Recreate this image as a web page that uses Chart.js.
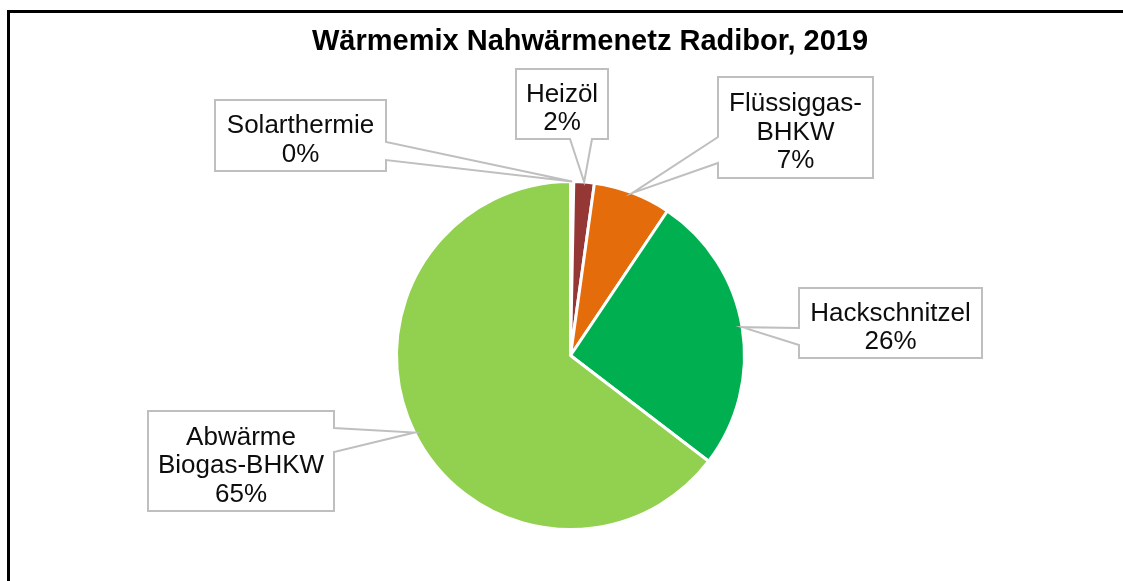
<!DOCTYPE html>
<html>
<head>
<meta charset="utf-8">
<script src="https://cdn.jsdelivr.net/npm/chart.js@4"></script>
<style>
  html, body { margin: 0; padding: 0; background: #fff; }
  #wrap { position: relative; width: 1123px; height: 581px; overflow: hidden; }
  #frame { position: absolute; left: 7px; top: 10px; width: 1300px; height: 800px;
           border-top: 3px solid #000; border-left: 3px solid #000; }
  canvas { position: absolute; left: 0; top: 0; }
</style>
</head>
<body>
<div id="wrap">
  <div id="frame"></div>
  <canvas id="pie" width="1123" height="581"></canvas>
</div>
<script>
// Wärmemix 2019, shares in percent
const categories = [
  ['Solarthermie'],
  ['Heizöl'],
  ['Flüssiggas-', 'BHKW'],
  ['Hackschnitzel'],
  ['Abwärme', 'Biogas-BHKW']
];
const shares = [0.3, 1.9, 7.2, 26.0, 64.6];
const colors = ['#FFC000', '#953735', '#E46C0A', '#00B050', '#92D050'];

// callout boxes (label placement)
const boxes = [
  { x: 215, y: 100, w: 171, h: 71,  side: 'right',  a: 142, b: 160 },
  { x: 516, y: 69,  w: 92,  h: 70,  side: 'bottom', a: 570, b: 592 },
  { x: 718, y: 77,  w: 155, h: 101, side: 'left',   a: 137, b: 163 },
  { x: 799, y: 288, w: 183, h: 70,  side: 'left',   a: 328, b: 345 },
  { x: 148, y: 411, w: 186, h: 100, side: 'right',  a: 428, b: 452 }
];

const FONT = '"Liberation Sans", Arial, sans-serif';

const callouts = {
  id: 'callouts',
  afterDatasetsDraw(chart) {
    const ctx = chart.ctx;
    const arcs = chart.getDatasetMeta(0).data;
    const total = shares.reduce((s, v) => s + v, 0);
    ctx.save();
    arcs.forEach((arc, i) => {
      const b = boxes[i];
      const mid = (arc.startAngle + arc.endAngle) / 2;
      const tx = arc.x + Math.cos(mid) * arc.outerRadius;
      const ty = arc.y + Math.sin(mid) * arc.outerRadius;
      const x0 = b.x, y0 = b.y, x1 = b.x + b.w, y1 = b.y + b.h;
      ctx.beginPath();
      ctx.moveTo(x0, y0);
      ctx.lineTo(x1, y0);
      if (b.side === 'right') { ctx.lineTo(x1, b.a); ctx.lineTo(tx, ty); ctx.lineTo(x1, b.b); }
      ctx.lineTo(x1, y1);
      if (b.side === 'bottom') { ctx.lineTo(b.b, y1); ctx.lineTo(tx, ty); ctx.lineTo(b.a, y1); }
      ctx.lineTo(x0, y1);
      if (b.side === 'left') { ctx.lineTo(x0, b.b); ctx.lineTo(tx, ty); ctx.lineTo(x0, b.a); }
      ctx.closePath();
      ctx.fillStyle = '#fff';
      ctx.fill();
      ctx.lineWidth = 2;
      ctx.strokeStyle = '#bfbfbf';
      ctx.stroke();

      const lines = categories[i].concat([Math.round(shares[i] / total * 100) + '%']);
      const lh = 28.5;
      ctx.fillStyle = '#0d0d0d';
      ctx.font = '26px ' + FONT;
      ctx.textAlign = 'center';
      ctx.textBaseline = 'middle';
      const cy = b.y + b.h / 2 - (lines.length - 1) * lh / 2 + 5;
      lines.forEach((t, k) => ctx.fillText(t, b.x + b.w / 2, cy + k * lh));
    });

    ctx.font = 'bold 29px ' + FONT;
    ctx.fillStyle = '#000';
    ctx.textAlign = 'center';
    ctx.textBaseline = 'alphabetic';
    ctx.fillText('Wärmemix Nahwärmenetz Radibor, 2019', 590, 50);
    ctx.restore();
  }
};

new Chart(document.getElementById('pie').getContext('2d'), {
  type: 'pie',
  data: {
    labels: categories,
    datasets: [{
      data: shares,
      backgroundColor: colors,
      borderColor: '#fff',
      borderWidth: 3
    }]
  },
  options: {
    responsive: false,
    animation: false,
    layout: { padding: { left: 395, right: 377, top: 180, bottom: 50 } },
    plugins: {
      legend: { display: false },
      tooltip: { enabled: false },
      title: { display: false }
    }
  },
  plugins: [callouts]
});
</script>
</body>
</html>
